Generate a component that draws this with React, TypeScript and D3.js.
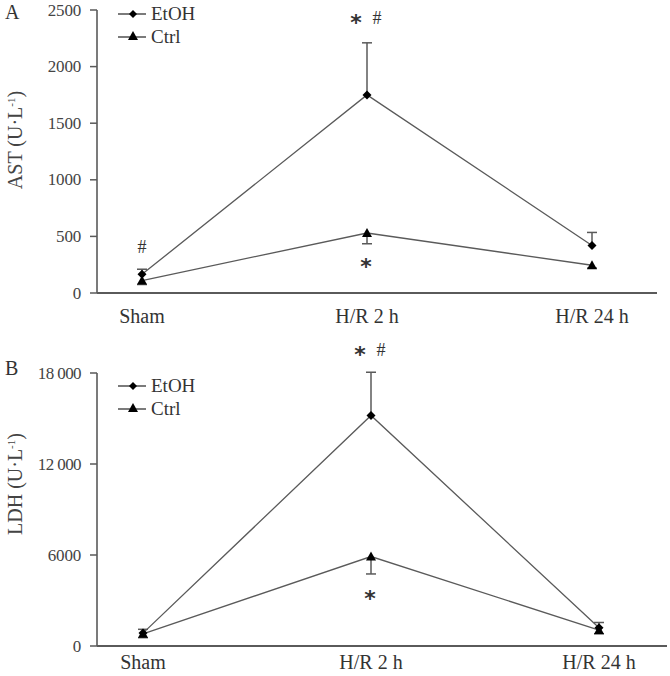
import React from 'react';
import * as d3 from 'd3';

// categories on the x axis
const categories = ['Sham', 'H/R 2 h', 'H/R 24 h'];

// panel A: AST (U·L-1)
const astEtoh = [165, 1750, 420];
const astEtohErr = [45, 460, 115];
const astCtrl = [110, 530, 245];
const astCtrlErr = [35, 95, 25];
const astTicks = [0, 500, 1000, 1500, 2000, 2500];

// panel B: LDH (U·L-1)
const ldhEtoh = [850, 15200, 1200];
const ldhEtohErr = [250, 2850, 350];
const ldhCtrl = [800, 5900, 1050];
const ldhCtrlErr = [250, 1150, 250];
const ldhTicks = [0, 6000, 12000, 18000];

const FONT = '"Times New Roman", "Liberation Serif", "DejaVu Serif", serif';
const GREY = '#5a5a5a';

interface PanelProps {
    top: number;
    bottom: number;
    right: number;
    label: string;
    labelY: number;
    yTitle: string;
    titleY: number;
    legendY: number;
    xLabelDy: number;
    ticks: number[];
    tickFmt: (v: number) => string;
    etoh: number[];
    etohErr: number[];
    ctrl: number[];
    ctrlErr: number[];
    xFirst: number;
    xLast: number;
}

const Diamond = ({ x, y, r = 4.5 }: { x: number; y: number; r?: number }) => (
    <path d={`M${x},${y - r}L${x + r},${y}L${x},${y + r}L${x - r},${y}Z`} fill="#000" />
);

const Triangle = ({ x, y, r = 5 }: { x: number; y: number; r?: number }) => (
    <path d={`M${x},${y - r}L${x + r},${y + r * 0.8}L${x - r},${y + r * 0.8}Z`} fill="#000" />
);

const Panel = (p: PanelProps) => {
    const axisX = 97;
    const y = d3.scaleLinear()
        .domain([0, p.ticks[p.ticks.length - 1]])
        .range([p.bottom, p.top]);
    const x = d3.scalePoint<string>()
        .domain(categories)
        .range([p.xFirst, p.xLast]);

    const line = d3.line<number>()
        .x((_, i) => x(categories[i])!)
        .y((d) => y(d));

    const ly = p.legendY;

    return (
        <g fontFamily={FONT}>
            <text x={5} y={p.labelY} fontSize={20} fill="#333">{p.label}</text>
            {/* y axis */}
            <line x1={axisX} x2={axisX} y1={p.top} y2={p.bottom} stroke={GREY} strokeWidth={1.6} />
            {p.ticks.map((t) => (
                <g key={t}>
                    <line x1={axisX - 7} x2={axisX} y1={y(t)} y2={y(t)} stroke={GREY} strokeWidth={1.5} />
                    <text x={axisX - 16} y={y(t) + 5.5} fontSize={17} textAnchor="end" fill="#444"
                        letterSpacing={t >= 10000 ? -0.6 : -0.2}>{p.tickFmt(t)}</text>
                </g>
            ))}
            {/* x axis */}
            <line x1={axisX} x2={p.right} y1={p.bottom} y2={p.bottom} stroke={GREY} strokeWidth={1.8} />
            {categories.map((c) => (
                <text key={c} x={x(c)} y={p.bottom + p.xLabelDy} fontSize={20} textAnchor="middle" fill="#333">{c}</text>
            ))}
            <text transform={`translate(22,${p.titleY}) rotate(-90)`} fontSize={20}
                textAnchor="middle" fill="#444">
                {p.yTitle} (U·L<tspan fontSize={11} dy={-7}>-1</tspan><tspan dy={7}>)</tspan>
            </text>

            {/* series lines */}
            <path d={line(p.etoh)!} fill="none" stroke={GREY} strokeWidth={1.3} />
            <path d={line(p.ctrl)!} fill="none" stroke={GREY} strokeWidth={1.3} />

            {/* error bars: EtOH up, Ctrl down */}
            {categories.map((c, i) => {
                const cx = x(c)!;
                return (
                    <g key={c} stroke={GREY} strokeWidth={1.5}>
                        <line x1={cx} x2={cx} y1={y(p.etoh[i])} y2={y(p.etoh[i] + p.etohErr[i])} />
                        <line x1={cx - 5} x2={cx + 5} y1={y(p.etoh[i] + p.etohErr[i])} y2={y(p.etoh[i] + p.etohErr[i])} />
                        <line x1={cx} x2={cx} y1={y(p.ctrl[i])} y2={y(p.ctrl[i] - p.ctrlErr[i])} />
                        <line x1={cx - 5} x2={cx + 5} y1={y(p.ctrl[i] - p.ctrlErr[i])} y2={y(p.ctrl[i] - p.ctrlErr[i])} />
                    </g>
                );
            })}

            {/* markers */}
            {categories.map((c, i) => (
                <g key={c}>
                    <Diamond x={x(c)!} y={y(p.etoh[i])} />
                    <Triangle x={x(c)!} y={y(p.ctrl[i])} />
                </g>
            ))}

            {/* legend */}
            <line x1={118} x2={146} y1={ly} y2={ly} stroke="#333" strokeWidth={1.3} />
            <Diamond x={133} y={ly} r={4} />
            <text x={151} y={ly + 6} fontSize={19} fill="#333">EtOH</text>
            <line x1={118} x2={146} y1={ly + 23} y2={ly + 23} stroke="#333" strokeWidth={1.3} />
            <Triangle x={133} y={ly + 22} r={5} />
            <text x={151} y={ly + 29} fontSize={19} fill="#333">Ctrl</text>
        </g>
    );
};

export default function App() {
    const fmtA = (v: number) => String(v);
    const fmtB = (v: number) => (v >= 10000 ? d3.format(',')(v).replace(',', ' ') : String(v));
    const xA = d3.scalePoint<string>().domain(categories).range([142, 592]);
    const xB = d3.scalePoint<string>().domain(categories).range([143, 599]);
    const star = { fontFamily: '"DejaVu Sans", sans-serif', fontWeight: 700, fill: '#333' } as const;

    return (
        <svg width={670} height={676} style={{ position: 'absolute', left: 0, top: 0, background: '#fff' }}
            fontFamily={FONT}>
            <rect width={670} height={676} fill="#fff" />
            <Panel top={10} bottom={293} right={657} label="A" labelY={19} yTitle="AST" titleY={140} legendY={14}
                xLabelDy={30} ticks={astTicks} tickFmt={fmtA}
                etoh={astEtoh} etohErr={astEtohErr} ctrl={astCtrl} ctrlErr={astCtrlErr} xFirst={142} xLast={592} />
            <Panel top={373} bottom={646} right={667} label="B" labelY={375} yTitle="LDH" titleY={484} legendY={386}
                xLabelDy={23} ticks={ldhTicks} tickFmt={fmtB}
                etoh={ldhEtoh} etohErr={ldhEtohErr} ctrl={ldhCtrl} ctrlErr={ldhCtrlErr} xFirst={143} xLast={599} />

            {/* significance marks */}
            <g fontFamily={FONT} fill="#333">
                <text x={xA('H/R 2 h')! - 11} y={30} fontSize={22} textAnchor="middle" style={star}>*</text>
                <text x={xA('H/R 2 h')! + 10} y={24} fontSize={18} textAnchor="middle">#</text>
                <text x={xA('H/R 2 h')! - 1} y={274} fontSize={22} textAnchor="middle" style={star}>*</text>
                <text x={xA('Sham')!} y={253} fontSize={18} textAnchor="middle">#</text>
                <text x={xB('H/R 2 h')! - 11} y={362} fontSize={22} textAnchor="middle" style={star}>*</text>
                <text x={xB('H/R 2 h')! + 10} y={356} fontSize={18} textAnchor="middle">#</text>
                <text x={xB('H/R 2 h')! - 1} y={606} fontSize={22} textAnchor="middle" style={star}>*</text>
            </g>
        </svg>
    );
}
